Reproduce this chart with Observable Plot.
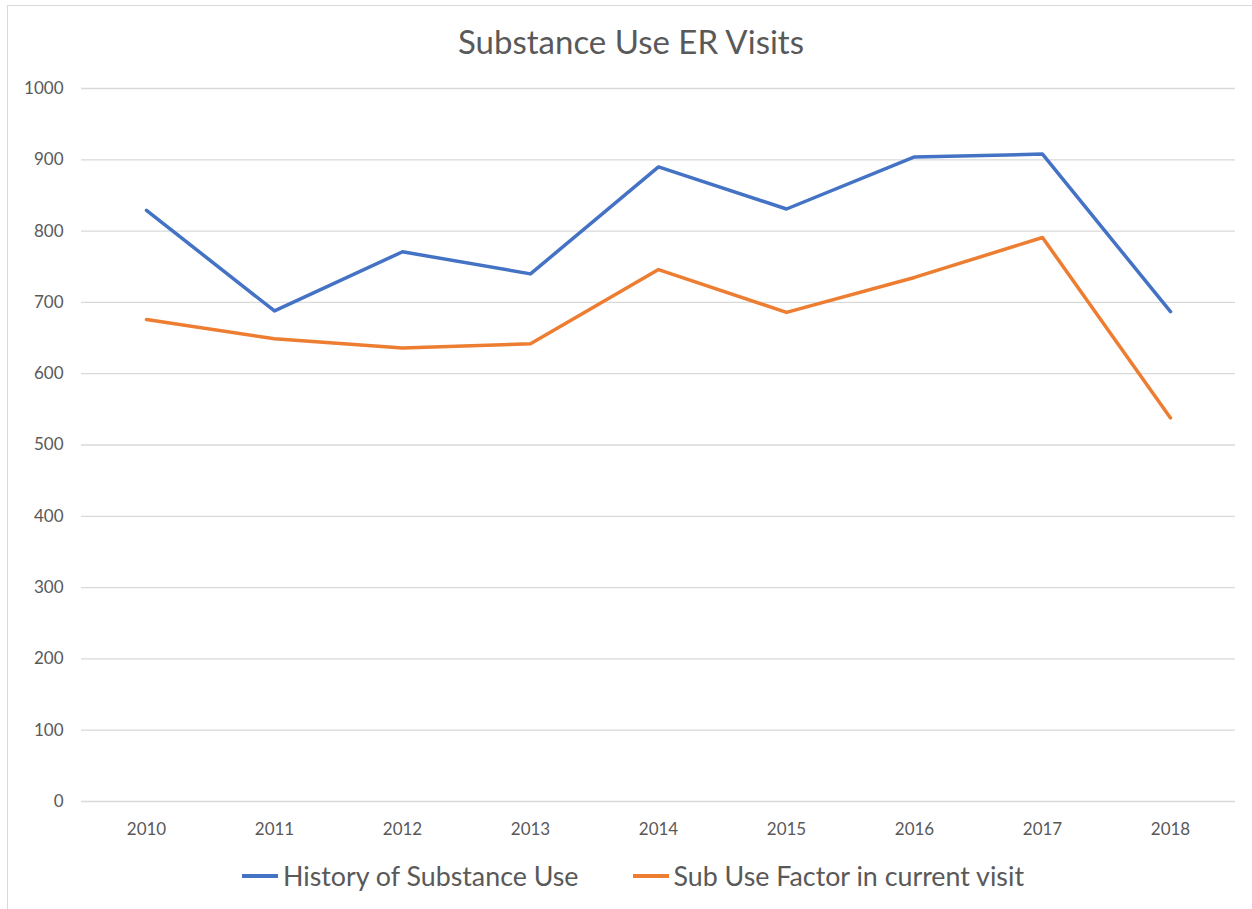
<!DOCTYPE html>
<html>
<head>
<meta charset="utf-8">
<script src="https://cdn.jsdelivr.net/npm/d3@7"></script>
<script src="https://cdn.jsdelivr.net/npm/@observablehq/plot@0.6"></script>
<style>
  html, body { margin: 0; padding: 0; background: #fff; }
  #chart {
    position: relative; width: 1252px; height: 909px; overflow: hidden;
    font-family: Lato, "Open Sans", sans-serif; color: #595959;
  }
  #frame {
    position: absolute; left: 7px; top: 5px; right: -10px; bottom: -10px;
    border: 1px solid #d9d9d9;
  }
  #title {
    position: absolute; left: 0; top: 21px; width: 1262px; text-align: center;
    font-size: 33px; line-height: 40px;
  }
  #plot { position: absolute; left: 0; top: 60px; }
  #legend {
    position: absolute; left: 0; top: 859px; width: 1266px;
    display: flex; justify-content: center; align-items: center;
    font-size: 26.8px; line-height: 34px;
  }
  .item { display: flex; align-items: center; margin: 0 27px; }
  .swatch { width: 36px; height: 4px; margin-right: 5px; }
</style>
</head>
<body>
<div id="chart">
  <div id="frame"></div>
  <div id="title">Substance Use ER Visits</div>
  <div id="plot"></div>
  <div id="legend"></div>
</div>
<script>
// Years on the category axis
const years = ["2010", "2011", "2012", "2013", "2014", "2015", "2016", "2017", "2018"];
// ER visits per year for each series
const historyOfUse = [829, 688, 771, 740, 890, 831, 904, 908, 687];
const currentVisitFactor = [676, 649, 636, 642, 746, 686, 735, 791, 538];
// Value axis ticks
const yTicks = [0, 100, 200, 300, 400, 500, 600, 700, 800, 900, 1000];

const seriesNames = ["History of Substance Use", "Sub Use Factor in current visit"];
const seriesColors = ["#4472C4", "#ED7D31"];
const seriesValues = [historyOfUse, currentVisitFactor];

const rows = seriesNames.flatMap((name, i) =>
  years.map((year, j) => ({series: name, year, value: seriesValues[i][j]}))
);

const chart = Plot.plot({
  width: 1252,
  height: 786,
  marginTop: 28,
  marginBottom: 45,
  marginLeft: 81,
  marginRight: 17,
  style: {fontFamily: "Lato, 'Open Sans', sans-serif", fontSize: "17px", color: "#595959", background: "transparent"},
  x: {type: "point", domain: years, padding: 0.5, label: null},
  y: {domain: [0, 1000], label: null},
  color: {domain: seriesNames, range: seriesColors},
  marks: [
    Plot.gridY(yTicks, {stroke: "#d9d9d9", strokeOpacity: 1, strokeWidth: 1.3}),
    Plot.axisY({ticks: yTicks, tickFormat: d => String(d), tickSize: 0, tickPadding: 18, label: null, fill: "#595959"}),
    Plot.axisX({tickSize: 0, tickPadding: 21, label: null, fill: "#595959"}),
    Plot.line(rows, {
      x: "year", y: "value", z: "series", stroke: "series",
      strokeWidth: 3.5, strokeLinejoin: "round", strokeLinecap: "round", curve: "linear"
    })
  ]
});
document.getElementById("plot").appendChild(chart);

const legend = document.getElementById("legend");
seriesNames.forEach((name, i) => {
  const item = document.createElement("div");
  item.className = "item";
  const sw = document.createElement("span");
  sw.className = "swatch";
  sw.style.background = seriesColors[i];
  const label = document.createElement("span");
  label.textContent = name;
  item.append(sw, label);
  legend.appendChild(item);
});
</script>
</body>
</html>
